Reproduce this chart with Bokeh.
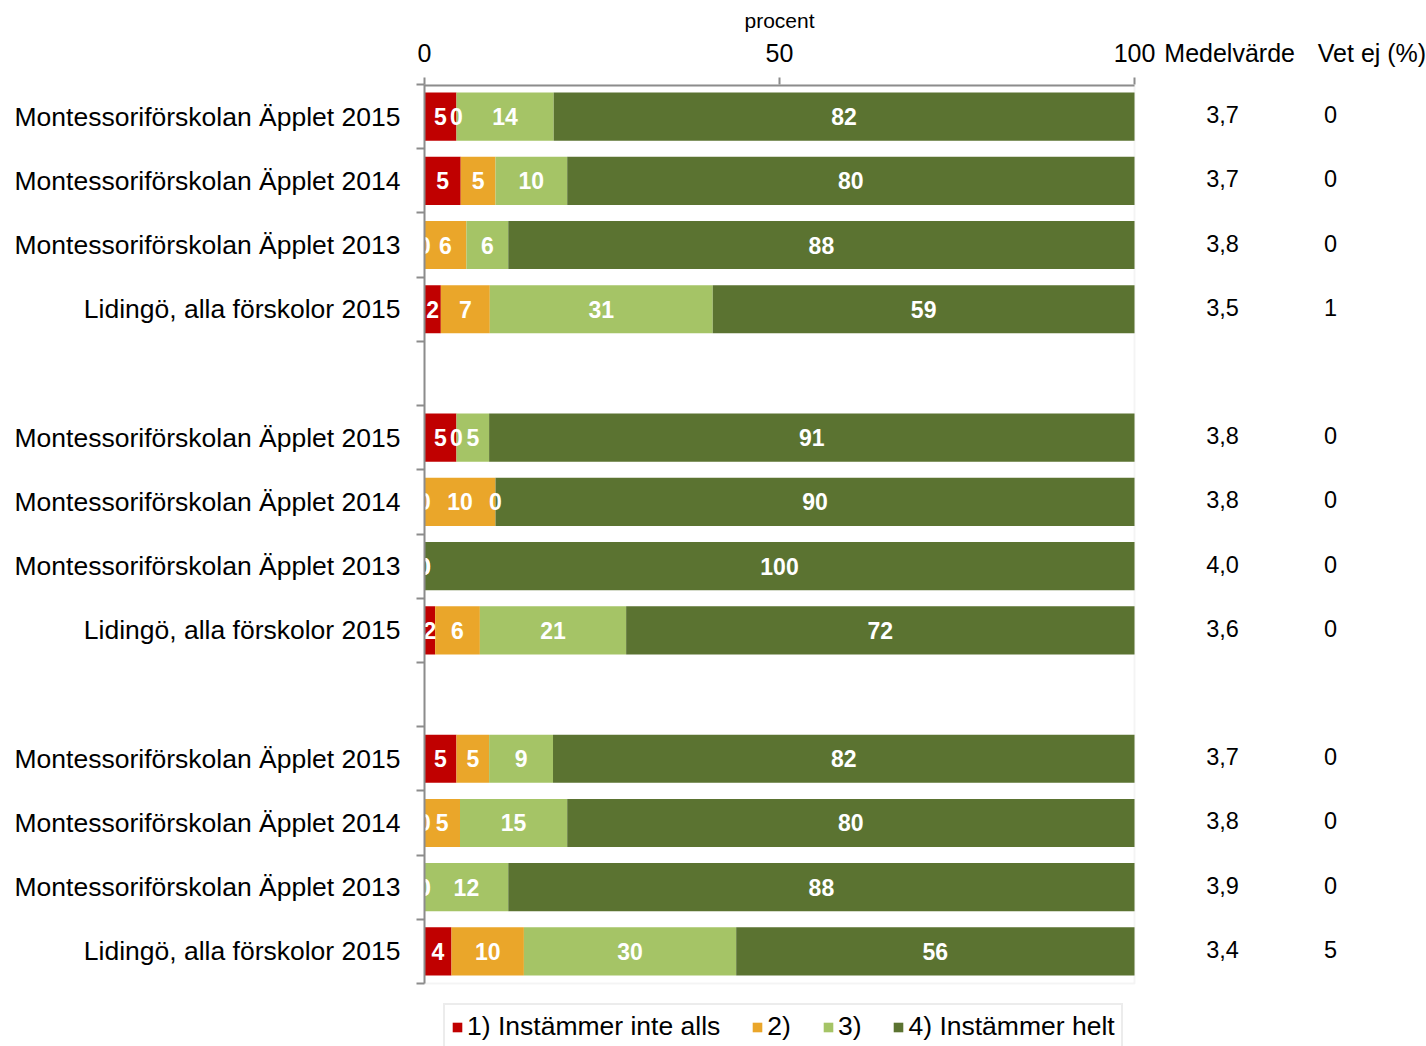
from bokeh.plotting import figure
from bokeh.models import (ColumnDataSource, FixedTicker, Legend, BoxAnnotation, Range1d,
                          LinearAxis)
from bokeh.core.properties import value
from bokeh.embed import file_html
from bokeh.resources import INLINE

# ---------------- data ----------------
rows = [
    "Montessoriförskolan Äpplet 2015",
    "Montessoriförskolan Äpplet 2014",
    "Montessoriförskolan Äpplet 2013",
    "Lidingö, alla förskolor 2015",
    "Montessoriförskolan Äpplet 2015",
    "Montessoriförskolan Äpplet 2014",
    "Montessoriförskolan Äpplet 2013",
    "Lidingö, alla förskolor 2015",
    "Montessoriförskolan Äpplet 2015",
    "Montessoriförskolan Äpplet 2014",
    "Montessoriförskolan Äpplet 2013",
    "Lidingö, alla förskolor 2015",
]
series_names = ["1) Instämmer inte alls", "2)", "3)", "4) Instämmer helt"]
s1 = [4.5, 5.1, 0.0, 2.3, 4.5, 0.0, 0.0, 1.5, 4.5, 0.0, 0.0, 3.8]
s2 = [0.0, 4.9, 5.9, 6.9, 0.0, 10.0, 0.0, 6.3, 4.6, 5.0, 0.0, 10.2]
s3 = [13.7, 10.1, 5.9, 31.4, 4.6, 0.0, 0.0, 20.6, 9.0, 15.1, 11.8, 29.9]
s4 = [81.8, 79.9, 88.2, 59.4, 90.9, 90.0, 100.0, 71.6, 81.9, 79.9, 88.2, 56.1]
medel = [3.7, 3.7, 3.8, 3.5, 3.8, 3.8, 4.0, 3.6, 3.7, 3.8, 3.9, 3.4]
vet_ej = [0, 0, 0, 1, 0, 0, 0, 0, 0, 0, 0, 5]
x_ticks = [0, 50, 100]
col_headers = ["Medelvärde", "Vet ej (%)"]
axis_title = "procent"

colors = ["#C00000", "#EAA62A", "#A5C466", "#5B7331"]
FONT = "Liberation Sans"
GRAY = "#8C8C8C"

# column positions (in x data units, right of the 0-100 scale)
col_medel_x, col_vet_x = 112.4, 127.6
head_x = [113.4, 133.45]

# row slots: groups of four separated by an empty slot
ypos = [i + i // 4 + 0.5 for i in range(len(rows))]
n_slots = len(rows) + 2
boundaries = list(range(n_slots + 1))

# layout: 899 px for the bar area, extra room below it for the legend
PX_PER_SLOT = 899 / n_slots
FRAME_H = 962
y_end = FRAME_H / PX_PER_SLOT

src = ColumnDataSource(dict(y=ypos, s1=s1, s2=s2, s3=s3, s4=s4))

p = figure(frame_width=1002, frame_height=FRAME_H, output_backend="svg",
           toolbar_location=None,
           x_range=Range1d(0, 1002 / 7.1), y_range=Range1d(y_end, 0),
           x_axis_location="above",
           min_border_left=424, min_border_right=0, min_border_top=84,
           min_border_bottom=0)

# light frame around the 0-100 plot area
p.add_layout(BoxAnnotation(left=x_ticks[0], right=x_ticks[-1], top=0, bottom=n_slots,
                           fill_alpha=0, line_color="#D9D9D9", line_width=2,
                           level="underlay"))

stack = ["s1", "s2", "s3", "s4"]
rs = p.hbar_stack(stack, y="y", height=0.75, color=colors, source=src,
                  line_color=None)

# axis line of the percent scale (0-100 only)
p.segment(x0=[x_ticks[0]], y0=[0], x1=[x_ticks[-1]], y1=[0], line_color=GRAY,
          line_width=4)

# segment labels
lx, ly, lt = [], [], []
for i in range(len(rows)):
    left = 0.0
    for vals in (s1, s2, s3, s4):
        v = vals[i]
        lx.append(left + v / 2.0)
        ly.append(ypos[i])
        lt.append(str(int(v + 0.5)))
        left += v
p.text(x=lx, y=ly, text=lt, text_color="white", text_font=value(FONT),
       text_font_style="bold", text_font_size="23px", text_align="center",
       text_baseline="middle")

# right-hand columns
p.text(x=[col_medel_x] * len(rows), y=ypos,
       text=[f"{m:.1f}".replace(".", ",") for m in medel],
       text_align="center", text_baseline="middle", text_font=value(FONT),
       text_font_size="23.5px", text_color="#000000", y_offset=-2)
p.text(x=[col_vet_x] * len(rows), y=ypos, text=[str(v) for v in vet_ej],
       text_align="center", text_baseline="middle", text_font=value(FONT),
       text_font_size="23.5px", text_color="#000000", y_offset=-2)

# axes
p.grid.visible = False
p.outline_line_color = None

xa = p.xaxis[0]
xa.ticker = FixedTicker(ticks=x_ticks + head_x, minor_ticks=x_ticks)
xa.major_label_overrides = {h: t for h, t in zip(head_x, col_headers)}
xa.major_label_text_font = FONT
xa.major_label_text_font_size = "25px"
xa.major_label_text_color = "#000000"
xa.major_label_standoff = 11
xa.axis_line_color = None
xa.major_tick_line_color = None
xa.major_tick_in = 0
xa.major_tick_out = 7
xa.minor_tick_line_color = GRAY
xa.minor_tick_line_width = 2
xa.minor_tick_in = 0
xa.minor_tick_out = 7

# axis title "procent", centred over the 0-100 scale
ta = LinearAxis(ticker=FixedTicker(ticks=[x_ticks[1]]),
                major_label_overrides={x_ticks[1]: axis_title},
                major_label_text_font=FONT, major_label_text_font_size="21px",
                major_label_text_color="#000000", major_label_standoff=4,
                axis_line_color=None, major_tick_line_color=None,
                minor_tick_line_color=None, major_tick_in=0, major_tick_out=0)
p.add_layout(ta, "above")

ya = p.yaxis[0]
ya.ticker = FixedTicker(ticks=ypos, minor_ticks=boundaries)
ya.bounds = (0, n_slots)
ya.major_label_overrides = {y: r for y, r in zip(ypos, rows)}
ya.major_label_text_font = FONT
ya.major_label_text_font_size = "26.5px"
ya.major_label_text_color = "#000000"
ya.major_label_standoff = 16
ya.major_tick_line_color = None
ya.major_tick_in = 0
ya.major_tick_out = 0
ya.minor_tick_line_color = GRAY
ya.minor_tick_line_width = 2
ya.minor_tick_in = 0
ya.minor_tick_out = 8
ya.axis_line_color = GRAY
ya.axis_line_width = 2

legend = Legend(items=[(n, [r]) for n, r in zip(series_names, rs)],
                orientation="horizontal", location=(19, -4),
                label_text_font=FONT, label_text_font_size="26.5px",
                label_text_color="#000000",
                glyph_width=12, glyph_height=12, label_standoff=4, spacing=31,
                padding=6, margin=0, border_line_color="#D9D9D9",
                border_line_width=2, background_fill_alpha=1.0)
p.add_layout(legend, "center")

open("out.html", "w").write(file_html(p, INLINE))
